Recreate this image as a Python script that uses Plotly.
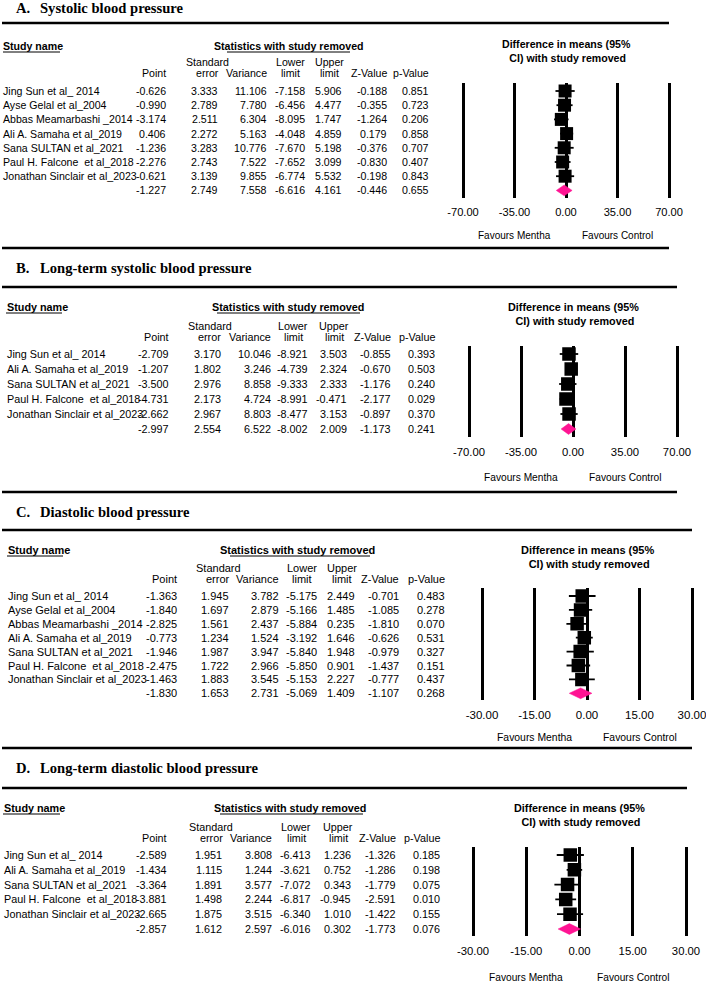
import plotly.graph_objects as go

W, H = 706, 992

# ---------------- DATA ----------------
titles = ["Systolic blood pressure", "Long-term systolic blood pressure",
          "Diastolic blood pressure", "Long-term diastolic blood pressure"]
panel_letters = ["A.", "B.", "C.", "D."]

studies_7 = ["Jing Sun et al_ 2014", "Ayse Gelal et al_2004", "Abbas Meamarbashi _2014",
             "Ali A. Samaha et al_2019", "Sana SULTAN et al_2021",
             "Paul H. Falcone \u00a0et al_2018", "Jonathan Sinclair et al_2023", ""]
studies_5 = ["Jing Sun et al_ 2014", "Ali A. Samaha et al_2019", "Sana SULTAN et al_2021",
             "Paul H. Falcone \u00a0et al_2018", "Jonathan Sinclair et al_2023", ""]

col_headers_top = ["", "Standard", "", "Lower", "Upper", "", ""]
col_headers_bot = ["Point", "error", "Variance", "limit", "limit", "Z-Value", "p-Value"]

# A. Systolic blood pressure
point_A = [-0.626, -0.990, -3.174, 0.406, -1.236, -2.276, -0.621, -1.227]
se_A = [3.333, 2.789, 2.511, 2.272, 3.283, 2.743, 3.139, 2.749]
var_A = [11.106, 7.780, 6.304, 5.163, 10.776, 7.522, 9.855, 7.558]
lower_A = [-7.158, -6.456, -8.095, -4.048, -7.670, -7.652, -6.774, -6.616]
upper_A = [5.906, 4.477, 1.747, 4.859, 5.198, 3.099, 5.532, 4.161]
z_A = [-0.188, -0.355, -1.264, 0.179, -0.376, -0.830, -0.198, -0.446]
p_A = [0.851, 0.723, 0.206, 0.858, 0.707, 0.407, 0.843, 0.655]
ticks_A = [-70, -35, 0, 35, 70]

# B. Long-term systolic blood pressure
point_B = [-2.709, -1.207, -3.500, -4.731, -2.662, -2.997]
se_B = [3.170, 1.802, 2.976, 2.173, 2.967, 2.554]
var_B = [10.046, 3.246, 8.858, 4.724, 8.803, 6.522]
lower_B = [-8.921, -4.739, -9.333, -8.991, -8.477, -8.002]
upper_B = [3.503, 2.324, 2.333, -0.471, 3.153, 2.009]
z_B = [-0.855, -0.670, -1.176, -2.177, -0.897, -1.173]
p_B = [0.393, 0.503, 0.240, 0.029, 0.370, 0.241]
ticks_B = [-70, -35, 0, 35, 70]

# C. Diastolic blood pressure
point_C = [-1.363, -1.840, -2.825, -0.773, -1.946, -2.475, -1.463, -1.830]
se_C = [1.945, 1.697, 1.561, 1.234, 1.987, 1.722, 1.883, 1.653]
var_C = [3.782, 2.879, 2.437, 1.524, 3.947, 2.966, 3.545, 2.731]
lower_C = [-5.175, -5.166, -5.884, -3.192, -5.840, -5.850, -5.153, -5.069]
upper_C = [2.449, 1.485, 0.235, 1.646, 1.948, 0.901, 2.227, 1.409]
z_C = [-0.701, -1.085, -1.810, -0.626, -0.979, -1.437, -0.777, -1.107]
p_C = [0.483, 0.278, 0.070, 0.531, 0.327, 0.151, 0.437, 0.268]
ticks_C = [-30, -15, 0, 15, 30]

# D. Long-term diastolic blood pressure
point_D = [-2.589, -1.434, -3.364, -3.881, -2.665, -2.857]
se_D = [1.951, 1.115, 1.891, 1.498, 1.875, 1.612]
var_D = [3.808, 1.244, 3.577, 2.244, 3.515, 2.597]
lower_D = [-6.413, -3.621, -7.072, -6.817, -6.340, -6.016]
upper_D = [1.236, 0.752, 0.343, -0.945, 1.010, 0.302]
z_D = [-1.326, -1.286, -1.779, -2.591, -1.422, -1.773]
p_D = [0.185, 0.198, 0.075, 0.010, 0.155, 0.076]
ticks_D = [-30, -15, 0, 15, 30]

panels = [
    dict(names=studies_7, cols=[point_A, se_A, var_A, lower_A, upper_A, z_A, p_A], ticks=ticks_A),
    dict(names=studies_5, cols=[point_B, se_B, var_B, lower_B, upper_B, z_B, p_B], ticks=ticks_B),
    dict(names=studies_7, cols=[point_C, se_C, var_C, lower_C, upper_C, z_C, p_C], ticks=ticks_C),
    dict(names=studies_5, cols=[point_D, se_D, var_D, lower_D, upper_D, z_D, p_D], ticks=ticks_D),
]

# ---------------- LAYOUT GEOMETRY (pixels) ----------------
geo = [
    dict(title_y=8, line1_y=23, line_end=669, hdr_y=46, h1_y=62, h2_y=72.5, r0=91, s=14.2,
         t=83, b=198, xl=463, xr=669, fav_y=235, diff_y=51, bottom_y=248, name_x=2,
         colx=[167, 219, 268, 306, 343, 388, 430], stat_c=289, stat_ul=(227, 350),
         study_ul=(3, 60), fs=10.6, msize=13),
    dict(title_y=268, line1_y=287, line_end=677, hdr_y=307, h1_y=326, h2_y=336.5, r0=354, s=15,
         t=346, b=437, xl=469, xr=677, fav_y=477, diff_y=314, bottom_y=492, name_x=6,
         colx=[170, 222, 272, 309, 348, 392, 436], stat_c=288, stat_ul=(217, 360),
         study_ul=(6, 62), fs=10.8, msize=13.5),
    dict(title_y=512, line1_y=530, line_end=692, hdr_y=550, h1_y=568, h2_y=578.5, r0=596, s=13.9,
         t=588, b=700, xl=482, xr=692, fav_y=737, diff_y=557, bottom_y=748, name_x=7,
         colx=[178, 230, 280, 318, 356, 400, 446], stat_c=297, stat_ul=(230, 370),
         study_ul=(7, 63), fs=11.0, msize=13.5),
    dict(title_y=768, line1_y=788, line_end=687, hdr_y=808, h1_y=827, h2_y=837.5, r0=855, s=14.8,
         t=847, b=936, xl=473, xr=686, fav_y=977, diff_y=814.5, bottom_y=None, name_x=3,
         colx=[168, 223, 273, 312, 352, 397, 441], stat_c=290, stat_ul=(220, 363),
         study_ul=(3, 60), fs=10.8, msize=13.5),
]

SANS = "Liberation Sans, Arial, sans-serif"
SERIF = "Liberation Serif, Times New Roman, serif"
PINK = "#FF1493"


def fx(x):
    return x / W


def fy(y):
    return 1 - y / H


fig = go.Figure()
annotations = []
shapes = []


def hline(x0, x1, y, width):
    shapes.append(dict(type="line", xref="paper", yref="paper", x0=fx(x0), x1=fx(x1),
                       y0=fy(y), y1=fy(y), line=dict(color="black", width=width)))


def txt(text, x, y, xanchor="left", size=11, family=SANS, xref="paper", yref="paper"):
    annotations.append(dict(text=text, x=x, y=y, xref=xref, yref=yref, xanchor=xanchor,
                            yanchor="middle", showarrow=False, borderpad=0,
                            font=dict(size=size, family=family, color="black")))


layout_axes = {}
for k, (pd_, g) in enumerate(zip(panels, geo), start=1):
    xa = "x" if k == 1 else f"x{k}"
    ya = "y" if k == 1 else f"y{k}"
    names = pd_["names"]
    cols = pd_["cols"]
    point, se, var, lower, upper = cols[0], cols[1], cols[2], cols[3], cols[4]
    n = len(names)
    tmax = max(pd_["ticks"])
    fs = g["fs"]

    # titles and rules
    txt(f"<b>{panel_letters[k-1]}</b>", fx(15), fy(g["title_y"]), size=14.6, family=SERIF)
    txt(f"<b>{titles[k-1]}</b>", fx(38.5), fy(g["title_y"]), size=14.6, family=SERIF)
    hline(2, g["line_end"], g["line1_y"], 2.6)
    if g["bottom_y"] is not None:
        hline(2, g["line_end"], g["bottom_y"], 2.6)

    # table headers
    txt("<b>Study name</b>", fx(g["name_x"]), fy(g["hdr_y"]), size=fs)
    hline(g["study_ul"][0], g["study_ul"][1], g["hdr_y"] + 6, 1)
    txt("<b>Statistics with study removed</b>", fx(g["stat_c"]), fy(g["hdr_y"]),
        xanchor="center", size=fs)
    hline(g["stat_ul"][0], g["stat_ul"][1], g["hdr_y"] + 6, 1)
    offs = [0, -12, 0, -16, -14, 0, 0]
    for j in range(7):
        cx = g["colx"][j] + offs[j]
        anch = "center" if offs[j] else "right"
        if col_headers_top[j]:
            txt(col_headers_top[j], fx(cx), fy(g["h1_y"]), xanchor=anch, size=fs)
        txt(col_headers_bot[j], fx(cx), fy(g["h2_y"]), xanchor=anch, size=fs)

    # table rows (positioned on the forest plot's row axis)
    for i in range(n):
        if names[i]:
            txt(names[i], fx(g["name_x"]), i, size=fs, yref=ya)
        for j in range(7):
            txt(f"{cols[j][i]:.3f}", fx(g["colx"][j]), i, xanchor="right", size=fs, yref=ya)

    # forest plot header and footer
    txt("<b>Difference in means (95%<br> CI) with study removed</b>", 0, fy(g["diff_y"]),
        xanchor="center", size=fs, xref=xa)
    txt("Favours Mentha", -tmax / 2, fy(g["fav_y"]), xanchor="center", size=fs - 0.6, xref=xa)
    txt("Favours Control", tmax / 2, fy(g["fav_y"]), xanchor="center", size=fs - 0.6, xref=xa)

    # study markers with CIs
    ns = n - 1
    rows = list(range(ns))
    fig.add_trace(go.Scatter(
        x=point[:ns], y=rows, mode="markers", xaxis=xa, yaxis=ya,
        marker=dict(symbol="square", size=g["msize"], color="black", line=dict(width=0)),
        error_x=dict(type="data", symmetric=False,
                     array=[upper[i] - point[i] for i in rows],
                     arrayminus=[point[i] - lower[i] for i in rows],
                     thickness=1.8, width=0, color="black"),
        hoverinfo="skip", showlegend=False))

    # summary diamond
    hh = 5.4 / g["s"]
    r = ns
    fig.add_trace(go.Scatter(
        x=[lower[r], point[r], upper[r], point[r], lower[r]],
        y=[r, r - hh, r, r + hh, r], mode="lines", fill="toself",
        fillcolor=PINK, line=dict(color=PINK, width=0.5), xaxis=xa, yaxis=ya,
        hoverinfo="skip", showlegend=False))

    # axes
    ppu = (g["xr"] - g["xl"]) / (2 * tmax)
    pad = 0.03 * tmax
    layout_axes["xaxis" if k == 1 else f"xaxis{k}"] = dict(
        domain=[fx(g["xl"] - pad * ppu), fx(g["xr"] + pad * ppu)],
        range=[-tmax - pad, tmax + pad], anchor=ya, automargin=False,
        tickvals=pd_["ticks"], ticktext=[f"{v:.2f}" for v in pd_["ticks"]],
        ticklabeloverflow="allow",
        showgrid=True, gridcolor="black", gridwidth=2.5, zeroline=False, showline=False,
        ticks="outside", ticklen=4, tickcolor="rgba(0,0,0,0)",
        tickfont=dict(size=fs + 0.5, family=SANS, color="black"), fixedrange=True)
    layout_axes["yaxis" if k == 1 else f"yaxis{k}"] = dict(
        domain=[fy(g["b"]), fy(g["t"])],
        range=[(g["b"] - g["r0"]) / g["s"], (g["t"] - g["r0"]) / g["s"]],
        anchor=xa, showgrid=False, zeroline=False, showline=False, automargin=False,
        showticklabels=False, ticks="", fixedrange=True)

fig.update_layout(
    template="none",
    width=W, height=H, margin=dict(l=0, r=0, t=0, b=0, pad=0, autoexpand=False),
    paper_bgcolor="white", plot_bgcolor="white", showlegend=False,
    annotations=annotations, shapes=shapes, **layout_axes)

fig.write_html("out.html", config={"displayModeBar": False},
               post_script="document.body.style.margin='0px';")
